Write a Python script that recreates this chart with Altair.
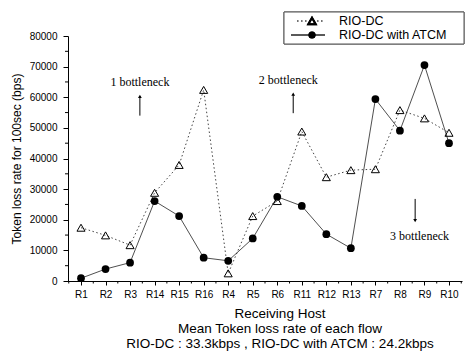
import altair as alt
import pandas as pd

hosts = ["R1", "R2", "R3", "R14", "R15", "R16", "R4", "R5", "R6", "R11",
         "R12", "R13", "R7", "R8", "R9", "R10"]
rio_dc = [17400, 14900, 11700, 28800, 37900, 62400, 2500, 21200, 26100, 48800,
          33900, 36200, 36500, 55800, 53100, 48400]
rio_atcm = [900, 3900, 6000, 26100, 21200, 7600, 6600, 13900, 27500, 24500,
            15300, 10700, 59400, 49100, 70500, 45000]

ann_text = ["1 bottleneck", "2 bottleneck", "3 bottleneck"]
ann_x = [2.4, 8.45, 13.8]
ann_y = [65000, 65600, 14600]
arrow_x = [2.4, 8.65, 13.62]
arrow_from = [54000, 54800, 26800]
arrow_to = [60300, 61000, 19700]
arrow_dir = ["triangle-up", "triangle-up", "triangle-down"]

legend_labels = ["RIO-DC", "RIO-DC with ATCM"]
x_title_lines = ["Receiving Host", "Mean Token loss rate of each flow",
                 "RIO-DC : 33.3kbps , RIO-DC with ATCM : 24.2kbps"]

y_major = list(range(0, 80001, 10000))
y_minor = list(range(5000, 80000, 10000))
x_minor = [i + 0.5 for i in range(-1, len(hosts))]

df = pd.DataFrame({"idx": list(range(len(hosts))), "host": hosts,
                   "rio": rio_dc, "atcm": rio_atcm})
ann = pd.DataFrame({"text": ann_text, "x": ann_x, "y": ann_y})
arr = pd.DataFrame({"x": arrow_x, "y": arrow_from, "y2": arrow_to, "shape": arrow_dir})
ym = pd.DataFrame({"v": y_minor})
xm = pd.DataFrame({"v": x_minor})
tl = pd.DataFrame({"t": x_title_lines})

names_js = "[" + ",".join("'%s'" % h for h in hosts) + "]"

xscale = alt.Scale(domain=[-0.53, len(hosts) - 1 + 0.53], nice=False, zero=False)
yscale = alt.Scale(domain=[0, 80000], nice=False)

xaxis = alt.Axis(
    values=list(range(len(hosts))),
    labelExpr=names_js + "[datum.value]",
    tickSize=4, labelOverlap=False, grid=False, labelFont="Liberation Sans",
    labelFontSize=10, labelColor="black", labelPadding=4, domainColor="black",
    tickColor="black", title=None,
)
yaxis = alt.Axis(
    values=y_major, tickSize=5, format="d", labelOverlap=False, grid=False,
    labelFont="Liberation Sans", labelFontSize=10, labelColor="black",
    labelPadding=6, domainColor="black", tickColor="black",
    title="Token loss rate for 100sec (bps)",
    titleFont="Liberation Sans", titleFontSize=12, titleFontWeight="normal",
    titleColor="black", titlePadding=6,
)


def X(field):
    return alt.X(field, type="quantitative", scale=xscale, axis=xaxis)


def Y(field):
    return alt.Y(field, type="quantitative", scale=yscale, axis=yaxis)


base = alt.Chart(df)

rio_line = base.mark_line(color="#444", strokeDash=[1.5, 2.5], strokeWidth=1).encode(
    x=X("idx"), y=Y("rio"))
rio_pts = base.mark_point(shape="triangle-up", filled=False, color="black",
                          size=65, strokeWidth=1, opacity=1).encode(x=X("idx"), y=Y("rio"))
atcm_line = base.mark_line(color="#222", strokeWidth=0.8).encode(x=X("idx"), y=Y("atcm"))
atcm_pts = base.mark_point(shape="circle", filled=True, color="black",
                           size=60, opacity=1).encode(x=X("idx"), y=Y("atcm"))

# minor ticks
y_minor_ticks = alt.Chart(ym).mark_rule(color="black", strokeWidth=1).encode(
    y=Y("v"), x=alt.value(0), x2=alt.value(-3))
x_minor_ticks = alt.Chart(xm).mark_rule(color="black", strokeWidth=1).encode(
    x=X("v"), y=alt.value(245), y2=alt.value(247.5))


# x-axis title lines (three lines, centred under the plot)
def title_line(i, ypix):
    return alt.Chart(tl).transform_filter(alt.datum.t == x_title_lines[i]).mark_text(
        font="Liberation Sans", fontSize=13.5, color="black", baseline="middle").encode(
        x=alt.value(212), y=alt.value(ypix), text="t:N")


title_layers = [title_line(0, 278), title_line(1, 293), title_line(2, 307.5)]

ann_text_layer = alt.Chart(ann).mark_text(font="Liberation Serif", fontSize=12,
                                          color="black").encode(
    x=X("x"), y=Y("y"), text="text:N")
arrow_rule = alt.Chart(arr).mark_rule(color="black", strokeWidth=1).encode(
    x=X("x"), y=Y("y"), y2="y2")
arrow_head = alt.Chart(arr).mark_point(filled=True, color="black", size=14,
                                       opacity=1).encode(
    x=X("x"), y=Y("y2"), shape=alt.Shape("shape:N", scale=None))

# legend (drawn by hand to match the combined line + symbol look)
leg_df = pd.DataFrame({"label": legend_labels})
leg_box = alt.Chart(leg_df).mark_rect(fill="white", stroke="#555", strokeWidth=1).encode(
    x=alt.value(216), x2=alt.value(396), y=alt.value(-24), y2=alt.value(8))
leg1_line = alt.Chart(leg_df).mark_rule(color="#444", strokeDash=[1.5, 2.5]).encode(
    x=alt.value(229), x2=alt.value(257), y=alt.value(-15))
leg1_sym = alt.Chart(leg_df).mark_point(shape="triangle-up", filled=False,
                                        color="black", size=55, opacity=1).encode(
    x=alt.value(244), y=alt.value(-15))
leg1_txt = alt.Chart(leg_df).transform_filter(alt.datum.label == legend_labels[0]).mark_text(
    align="left", font="Liberation Sans", fontSize=12.5, color="black").encode(
    x=alt.value(271), y=alt.value(-15), text="label:N")
leg2_line = alt.Chart(leg_df).mark_rule(color="#222", strokeWidth=1).encode(
    x=alt.value(223), x2=alt.value(257), y=alt.value(-1))
leg2_sym = alt.Chart(leg_df).mark_point(shape="circle", filled=True, color="black",
                                        size=50, opacity=1).encode(
    x=alt.value(244), y=alt.value(-1))
leg2_txt = alt.Chart(leg_df).transform_filter(alt.datum.label == legend_labels[1]).mark_text(
    align="left", font="Liberation Sans", fontSize=12.5, color="black").encode(
    x=alt.value(271), y=alt.value(-1), text="label:N")

chart = alt.layer(
    rio_line, atcm_line, rio_pts, atcm_pts, y_minor_ticks, x_minor_ticks,
    ann_text_layer, arrow_rule, arrow_head,
    leg_box, leg1_line, leg1_sym, leg1_txt, leg2_line, leg2_sym, leg2_txt,
    *title_layers,
).properties(
    width=394, height=245,
    autosize=alt.AutoSizeParams(type="none"),
    padding={"left": 68, "top": 36, "right": 5, "bottom": 70},
    background="white",
).configure_view(stroke=None).configure_axis(labelOverlap=False)

chart.save("out.html", embed_options={"renderer": "svg", "actions": False})
